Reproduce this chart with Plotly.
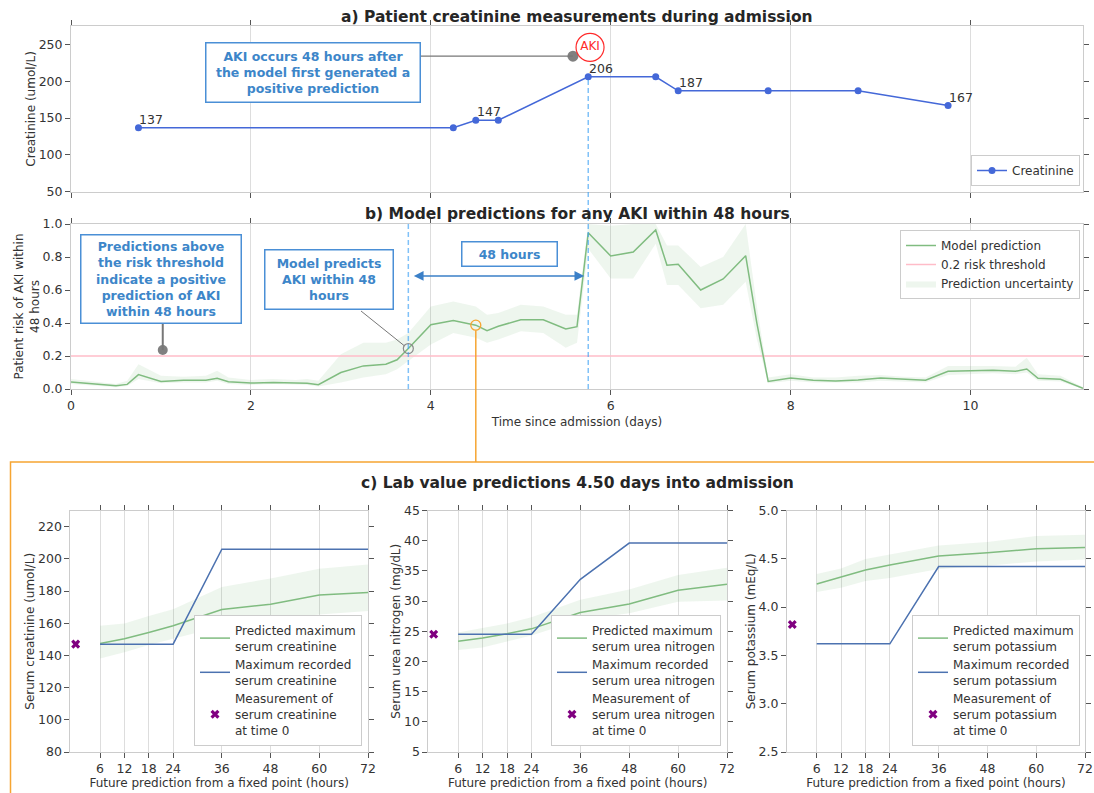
import plotly.graph_objects as go

W, H = 1094, 793

# ---------------- data ----------------
# a) creatinine measurements (days since admission, umol/L)
creat_days = [0.75, 4.25, 4.5, 4.75, 5.75, 6.5, 6.75, 7.75, 8.75, 9.75]
creat_vals = [137, 137, 147, 147, 206, 206, 187, 187, 187, 167]

# b) model risk of AKI within 48 hours
risk_days = [0, 0.5, 0.625, 0.75, 1.0, 1.25, 1.5, 1.625, 1.75, 2.0, 2.25, 2.5,
             2.625, 2.75, 3.0, 3.25, 3.5, 3.625, 3.75, 4.0, 4.25, 4.5, 4.625,
             4.75, 5.0, 5.25, 5.5, 5.625, 5.75, 6.0, 6.25, 6.5, 6.625, 6.75,
             7.0, 7.25, 7.5, 7.625, 7.75, 8.0, 8.25, 8.5, 8.75, 9.0, 9.25, 9.5,
             9.75, 10.0, 10.25, 10.5, 10.625, 10.75, 11.0, 11.25]
risk_mean = [0.042, 0.020, 0.028, 0.087, 0.046, 0.053, 0.053, 0.065, 0.044,
             0.036, 0.040, 0.036, 0.035, 0.026, 0.100, 0.140, 0.150, 0.177,
             0.245, 0.390, 0.415, 0.387, 0.353, 0.380, 0.420, 0.420, 0.364,
             0.378, 0.947, 0.806, 0.830, 0.964, 0.750, 0.756, 0.600, 0.667,
             0.808, 0.398, 0.046, 0.067, 0.053, 0.049, 0.055, 0.067, 0.059,
             0.053, 0.107, 0.109, 0.113, 0.107, 0.121, 0.065, 0.059, 0.004]
risk_low = [0.030, 0.010, 0.018, 0.060, 0.035, 0.040, 0.040, 0.050, 0.030,
            0.025, 0.030, 0.025, 0.025, 0.015, 0.040, 0.070, 0.090, 0.120,
            0.170, 0.270, 0.340, 0.310, 0.280, 0.300, 0.350, 0.340, 0.250,
            0.280, 0.850, 0.670, 0.670, 0.880, 0.630, 0.630, 0.490, 0.510,
            0.650, 0.300, 0.035, 0.050, 0.040, 0.040, 0.040, 0.050, 0.045,
            0.040, 0.085, 0.090, 0.095, 0.090, 0.100, 0.050, 0.045, 0.000]
risk_high = [0.060, 0.030, 0.050, 0.150, 0.080, 0.075, 0.080, 0.110, 0.070,
             0.055, 0.060, 0.055, 0.060, 0.050, 0.210, 0.280, 0.280, 0.300,
             0.340, 0.500, 0.530, 0.500, 0.450, 0.460, 0.510, 0.500, 0.450,
             0.450, 1.000, 0.990, 1.000, 1.000, 0.870, 0.870, 0.740, 0.800,
             1.000, 0.500, 0.070, 0.090, 0.070, 0.070, 0.080, 0.085, 0.075,
             0.070, 0.140, 0.140, 0.140, 0.135, 0.190, 0.090, 0.080, 0.010]
risk_threshold = 0.2

# c) lab value predictions from 4.50 days into admission
horizon_hours = [6, 12, 18, 24, 36, 48, 60, 72]

cr_pred = [147.4, 150.3, 154.2, 158.4, 168.5, 171.8, 177.5, 179.0]
cr_low = [138.1, 141.9, 146.4, 150.3, 158.1, 161.9, 165.4, 167.6]
cr_high = [158.4, 159.8, 164.5, 168.7, 182.5, 187.8, 193.8, 196.5]
cr_rec = [147, 147, 147, 147, 206, 206, 206, 206]
cr_t0 = 147

bun_pred = [23.35, 23.9, 24.6, 25.4, 28.1, 29.5, 31.8, 32.8]
bun_low = [21.9, 22.3, 23.3, 24.3, 26.9, 28.0, 29.9, 30.1]
bun_high = [24.8, 25.5, 26.3, 27.3, 30.2, 31.9, 34.3, 35.5]
bun_rec = [24.5, 24.5, 24.5, 24.5, 33.6, 39.6, 39.6, 39.6]
bun_t0 = 24.5

k_pred = [4.24, 4.315, 4.384, 4.435, 4.528, 4.563, 4.604, 4.618]
k_low = [4.156, 4.20, 4.27, 4.30, 4.394, 4.428, 4.473, 4.494]
k_high = [4.342, 4.40, 4.497, 4.545, 4.638, 4.673, 4.735, 4.749]
k_rec = [3.62, 3.62, 3.62, 3.62, 4.42, 4.42, 4.42, 4.42]
k_t0 = 3.82

# annotation anchors
aki_onset = (5.77, 246)          # "AKI" badge in panel a
aki_note_pt = (5.58, 234)        # grey dot the panel-a note points at
threshold_note_pt = (1.02, 0.236)
first_positive = (3.75, 0.245)
lab_snapshot = (4.5, 0.387)
aki_day = 5.75

# ---------------- styling ----------------
FONT = "DejaVu Sans"
TXT = "#333333"
BLUE_TXT = "#3d86c9"
GREEN = "rgb(128,188,128)"
BAND = "rgba(100,175,100,0.11)"
CR_BLUE = "#4468d8"
REC_BLUE = "#4c72b0"
ORANGE = "#f6a532"
VLINE = "rgba(60,160,245,0.65)"


def xdom(a, b):
    return [a / W, b / W]


def ydom(top, bottom):
    return [1 - bottom / H, 1 - top / H]


def px_x(p):
    return p / W


def px_y(p):
    return 1 - p / H


# pixel boxes of every axis
A_X = (71, 1083)
A_Y = (26, 191.7)
B_Y = (224, 389)
C_Y = (510.5, 752)
C1_X = (70.4, 368)
C2_X = (428.4, 727)
C3_X = (787, 1085)

A_RANGE = [50, 275]
DAY_RANGE = [0, 11.25]


def day_paper_x(d):
    left, right = A_X
    return px_x(left + (d - DAY_RANGE[0]) / (DAY_RANGE[1] - DAY_RANGE[0]) * (right - left))


def a_paper_y(v):
    top, bot = A_Y
    frac = (v - A_RANGE[0]) / (A_RANGE[1] - A_RANGE[0])
    return px_y(bot - frac * (bot - top))


def b_paper_y(v):
    top, bot = B_Y
    return px_y(bot - v * (bot - top))


fig = go.Figure()

# ---- panel a ----
fig.add_trace(go.Scatter(
    x=creat_days, y=creat_vals, mode="lines+markers", name="Creatinine",
    line=dict(color=CR_BLUE, width=1.5), marker=dict(size=7, color=CR_BLUE),
    xaxis="x", yaxis="y", legend="legend"))

fig.add_trace(go.Scatter(
    x=[aki_note_pt[0]], y=[aki_note_pt[1]], mode="markers", showlegend=False,
    marker=dict(size=11, color="#808080"), xaxis="x", yaxis="y"))
fig.add_trace(go.Scatter(
    x=[aki_onset[0]], y=[aki_onset[1]], mode="markers+text", text=["AKI"],
    textfont=dict(color="#ff2a2a", size=12, family=FONT), textposition="middle center",
    showlegend=False,
    marker=dict(size=28, color="rgba(255,255,255,0)", symbol="circle",
                line=dict(color="#ff2a2a", width=1.2)),
    xaxis="x", yaxis="y"))

# value labels where the creatinine level changes
for i, (d, v) in enumerate(zip(creat_days, creat_vals)):
    if i == 0 or v != creat_vals[i - 1]:
        fig.add_annotation(x=d, y=v, xref="x", yref="y", text=str(v),
                           showarrow=False, xanchor="left", yanchor="bottom",
                           xshift=-1, yshift=-1,
                           font=dict(size=12.5, color=TXT, family=FONT))

# ---- panel b ----
fig.add_trace(go.Scatter(
    x=risk_days, y=risk_high, mode="lines", line=dict(width=0),
    showlegend=False, hoverinfo="skip", xaxis="x2", yaxis="y2"))
fig.add_trace(go.Scatter(
    x=risk_days, y=risk_low, mode="lines", line=dict(width=0),
    fill="tonexty", fillcolor=BAND, name="Prediction uncertainty",
    legendrank=3, xaxis="x2", yaxis="y2", legend="legend2"))
fig.add_trace(go.Scatter(
    x=[DAY_RANGE[0], DAY_RANGE[1]], y=[risk_threshold, risk_threshold],
    mode="lines", line=dict(color="#ffbcc8", width=1.5),
    name=f"{risk_threshold:g} risk threshold", legendrank=2,
    xaxis="x2", yaxis="y2", legend="legend2"))
fig.add_trace(go.Scatter(
    x=risk_days, y=risk_mean, mode="lines", line=dict(color=GREEN, width=1.5),
    name="Model prediction", legendrank=1, xaxis="x2", yaxis="y2",
    legend="legend2"))

fig.add_trace(go.Scatter(
    x=[threshold_note_pt[0]], y=[threshold_note_pt[1]], mode="markers",
    showlegend=False, marker=dict(size=10, color="#808080"),
    xaxis="x2", yaxis="y2"))
fig.add_trace(go.Scatter(
    x=[first_positive[0]], y=[first_positive[1]], mode="markers",
    showlegend=False,
    marker=dict(size=10, symbol="circle-open", color="#8a8a8a",
                line=dict(width=1.2)),
    xaxis="x2", yaxis="y2"))
fig.add_trace(go.Scatter(
    x=[lab_snapshot[0]], y=[lab_snapshot[1]], mode="markers",
    showlegend=False,
    marker=dict(size=10, symbol="circle-open", color=ORANGE,
                line=dict(width=1.3)),
    xaxis="x2", yaxis="y2"))


# ---- panel c ----
def lab_panel(xa, ya, leg, pred, low, high, rec, t0, label):
    fig.add_trace(go.Scatter(
        x=horizon_hours, y=high, mode="lines", line=dict(width=0),
        showlegend=False, hoverinfo="skip", xaxis=xa, yaxis=ya))
    fig.add_trace(go.Scatter(
        x=horizon_hours, y=low, mode="lines", line=dict(width=0),
        fill="tonexty", fillcolor=BAND, showlegend=False, hoverinfo="skip",
        xaxis=xa, yaxis=ya))
    fig.add_trace(go.Scatter(
        x=horizon_hours, y=pred, mode="lines", line=dict(color=GREEN, width=1.5),
        name=f"Predicted maximum<br>serum {label}", legendrank=1,
        xaxis=xa, yaxis=ya, legend=leg))
    fig.add_trace(go.Scatter(
        x=horizon_hours, y=rec, mode="lines", line=dict(color=REC_BLUE, width=1.5),
        name=f"Maximum recorded<br>serum {label}", legendrank=2,
        xaxis=xa, yaxis=ya, legend=leg))
    fig.add_trace(go.Scatter(
        x=[0], y=[t0], mode="markers",
        marker=dict(symbol="x", size=8, color="#800080"),
        name=f"Measurement of<br>serum {label}<br>at time 0", legendrank=3,
        xaxis=xa, yaxis=ya, legend=leg))


lab_panel("x3", "y3", "legend3", cr_pred, cr_low, cr_high, cr_rec, cr_t0, "creatinine")
lab_panel("x4", "y4", "legend4", bun_pred, bun_low, bun_high, bun_rec, bun_t0, "urea nitrogen")
lab_panel("x5", "y5", "legend5", k_pred, k_low, k_high, k_rec, k_t0, "potassium")

# ---------------- axes ----------------
tickfont = dict(size=12.5, color=TXT, family=FONT)
titlefont = dict(size=12, color=TXT, family=FONT)
common = dict(showline=True, linecolor="#cccccc", linewidth=1, mirror="ticks",
              ticks="outside", ticklen=5, tickcolor="#555555", tickwidth=1,
              tickfont=tickfont, zeroline=False, automargin=False)
xgrid = dict(showgrid=True, gridcolor="#dddddd", gridwidth=1)

layout_axes = dict(
    xaxis=dict(domain=xdom(*A_X), range=DAY_RANGE, anchor="y", dtick=2,
               showticklabels=False, **xgrid, **common),
    yaxis=dict(domain=ydom(*A_Y), range=A_RANGE, anchor="x", dtick=50,
               showgrid=False, title=dict(text="Creatinine (umol/L)", font=titlefont, standoff=0),
               **common),
    xaxis2=dict(domain=xdom(*A_X), range=DAY_RANGE, anchor="y2", dtick=2,
                title=dict(text="Time since admission (days)", font=titlefont, standoff=5),
                **xgrid, **common),
    yaxis2=dict(domain=ydom(*B_Y), range=[0, 1], anchor="x2", dtick=0.2,
                tickformat=".1f", showgrid=False,
                title=dict(text="Patient risk of AKI within<br>48 hours", font=titlefont, standoff=0),
                **common),
)
lab_y = [("Serum creatinine (umol/L)", [80, 230], 20, None),
         ("Serum urea nitrogen (mg/dL)", [5, 45], 5, None),
         ("Serum potassium (mEq/L)", [2.5, 5.0], 0.5, ".1f")]
for k, (xd, (ytitle, yr, dt, fmt)) in enumerate(zip([C1_X, C2_X, C3_X], lab_y)):
    n = k + 3
    layout_axes[f"xaxis{n}"] = dict(
        domain=xdom(*xd), range=[-1.3, 72], anchor=f"y{n}",
        tickvals=horizon_hours,
        title=dict(text="Future prediction from a fixed point (hours)", font=titlefont, standoff=2),
        **xgrid, **common)
    ya = dict(domain=ydom(*C_Y), range=yr, anchor=f"x{n}", dtick=dt,
              showgrid=False, title=dict(text=ytitle, font=titlefont, standoff=0), **common)
    if fmt:
        ya["tickformat"] = fmt
    layout_axes[f"yaxis{n}"] = ya

# ---------------- legends ----------------
legbox = dict(bgcolor="white", bordercolor="#cccccc", borderwidth=1,
              traceorder="normal", font=dict(size=12, color=TXT, family=FONT))
legends = dict(
    legend=dict(x=px_x(1080), y=px_y(186), xanchor="right", yanchor="bottom", **legbox),
    legend2=dict(x=px_x(1080), y=px_y(230), xanchor="right", yanchor="top", **legbox),
    legend3=dict(x=px_x(362), y=px_y(746), xanchor="right", yanchor="bottom", **legbox),
    legend4=dict(x=px_x(721), y=px_y(746), xanchor="right", yanchor="bottom", **legbox),
    legend5=dict(x=px_x(1080), y=px_y(746), xanchor="right", yanchor="bottom", **legbox),
)

fig.update_layout(
    width=W, height=H,
    margin=dict(l=0, r=0, t=0, b=0, pad=0, autoexpand=False),
    paper_bgcolor="white", plot_bgcolor="white",
    font=dict(family=FONT, color=TXT),
    **layout_axes, **legends,
)

# ---------------- titles ----------------
title_font = dict(size=15.5, color="#262626", family=FONT)
for text, ypx in [("a) Patient creatinine measurements during admission", 17),
                  ("b) Model predictions for any AKI within 48 hours", 214),
                  ("c) Lab value predictions 4.50 days into admission", 483)]:
    fig.add_annotation(x=px_x(577), y=px_y(ypx), xref="paper", yref="paper",
                       text=f"<b>{text}</b>", showarrow=False,
                       xanchor="center", yanchor="middle", font=title_font)

# ---------------- call-out boxes ----------------
note_font = dict(size=12.5, color=BLUE_TXT, family=FONT)


def note(cx, cy, w, h, text):
    fig.add_annotation(x=px_x(cx), y=px_y(cy), xref="paper", yref="paper",
                       text=f"<b>{text}</b>", showarrow=False, align="center",
                       xanchor="center", yanchor="middle", width=w, height=h,
                       bgcolor="white", bordercolor="#4a8fd6", borderwidth=1.5,
                       borderpad=0, font=note_font)


note(313, 72.5, 213, 58, "AKI occurs 48 hours after<br>the model first generated a<br>positive prediction")
note(161, 279, 159, 87, "Predictions above<br>the risk threshold<br>indicate a positive<br>prediction of AKI<br>within 48 hours")
note(329, 279.5, 127, 58, "Model predicts<br>AKI within 48<br>hours")
note(509, 254, 94, 23, "48 hours")

# connector lines
fig.add_shape(type="line", xref="paper", yref="paper", x0=px_x(421),
              x1=day_paper_x(aki_note_pt[0]),
              y0=a_paper_y(aki_note_pt[1]), y1=a_paper_y(aki_note_pt[1]),
              line=dict(color="#777777", width=1.3))
fig.add_shape(type="line", xref="x2", yref="paper", x0=threshold_note_pt[0],
              x1=threshold_note_pt[0], y0=px_y(324), y1=b_paper_y(threshold_note_pt[1]),
              line=dict(color="#777777", width=2))
fig.add_shape(type="line", xref="paper", yref="paper", x0=px_x(361), y0=px_y(311),
              x1=px_x(404), y1=px_y(345.5), line=dict(color="#777777", width=1))

# 48-hour double arrow between first positive prediction and AKI onset
fig.add_annotation(x=aki_day, y=0.685, ax=first_positive[0], ay=0.685,
                   xref="x2", yref="y2", axref="x2", ayref="y2", text="",
                   showarrow=True, arrowside="end+start", arrowhead=2,
                   arrowsize=1.3, arrowwidth=1.5, arrowcolor="#3b80c8",
                   standoff=4, startstandoff=4)

# dashed markers for first positive prediction and AKI onset
fig.add_shape(type="line", xref="x2", yref="y2", x0=first_positive[0], x1=first_positive[0],
              y0=0, y1=1, line=dict(color=VLINE, width=1.5, dash="5px,3px"))
fig.add_shape(type="line", xref="x", yref="paper", x0=aki_day, x1=aki_day,
              y0=b_paper_y(0), y1=a_paper_y(creat_vals[creat_days.index(aki_day)]),
              line=dict(color=VLINE, width=1.5, dash="5px,3px"))

# orange link from the 4.50-day prediction to the lab value panel
fig.add_shape(type="line", xref="x2", yref="paper", x0=lab_snapshot[0], x1=lab_snapshot[0],
              y0=b_paper_y(lab_snapshot[1]) - 5 / H, y1=px_y(462),
              line=dict(color=ORANGE, width=1.5))
fig.add_shape(type="rect", xref="paper", yref="paper", x0=px_x(10.5), x1=px_x(1110),
              y0=px_y(820), y1=px_y(462), line=dict(color=ORANGE, width=1.5),
              fillcolor="rgba(0,0,0,0)", layer="below")

fig.write_html("out.html")
